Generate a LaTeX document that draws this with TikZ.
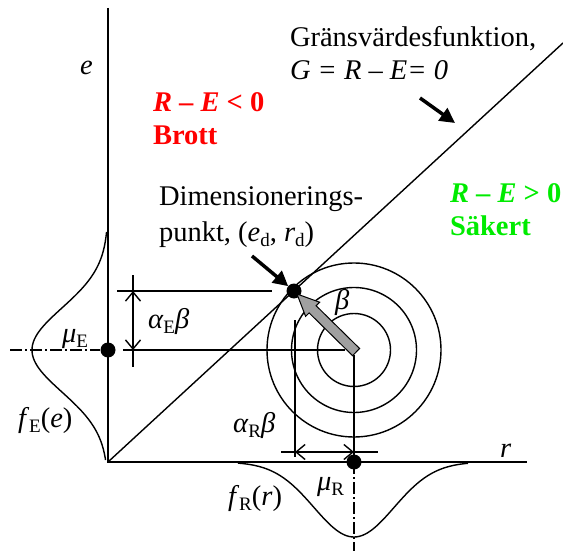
\documentclass[tikz,border=0pt]{standalone}
\usepackage{fontspec}
\setmainfont{Liberation Serif}
\usetikzlibrary{arrows.meta,calc}
\definecolor{brottred}{RGB}{255,0,0}
\definecolor{sakgreen}{RGB}{0,235,0}
\definecolor{arrowgray}{RGB}{160,160,160}
\newcommand\lsub[1]{\raisebox{-0.2em}{\fontsize{19}{20}\selectfont #1}}
\begin{document}
\fontsize{28.5}{34}\selectfont
\begin{tikzpicture}[x=1pt,y=-1pt,
  every node/.style={inner sep=0pt, outer sep=0pt},
  axisline/.style={line width=1.8pt},
  thinline/.style={line width=1.4pt},
  dimtip/.style={line width=1.4pt, -{Straight Barb[length=9pt,width=15pt]}},
  pointer/.style={line width=3.5pt, -{Triangle[length=15pt,width=15pt]}},
  dashdotline/.style={line width=1.4pt, dash pattern=on 12pt off 3pt on 2pt off 3pt},
  dot/.style={circle, fill=black, minimum size=15pt, inner sep=0pt},
  lbl/.style={anchor=base west}]
\useasboundingbox (0,0) rectangle (563,551);
% key points
\coordinate (O) at (108,462);
\coordinate (Etop) at (108,8);
\coordinate (Rend) at (527,462);
\coordinate (Gend) at (563,43);
\coordinate (C) at (354,350);
% density curves
\draw[thinline] plot[domain=232:460, samples=90, smooth] ({108-76*exp(-1*((\x-350)^2)/3528)}, \x);
\draw[thinline] plot[domain=238:468, samples=90, smooth] (\x, {462+75*exp(-1*((\x-354)^2)/3200)});
% axes and limit state line
\draw[axisline] (Etop) -- (O) -- (Rend);
\draw[thinline] (O) -- (Gend);
% circles
\draw[thinline] (C) circle[radius=36.5];
\draw[thinline] (C) circle[radius=62.5];
\draw[thinline] (C) circle[radius=87];
% extension and dimension lines
\coordinate (ext1a) at (117,291); \coordinate (ext1b) at (272,291);
\draw[thinline] (ext1a) -- (ext1b);
\coordinate (hA) at (123,350); \coordinate (hB) at (345,350);
\draw[thinline] (hA) -- (hB);
\coordinate (dEa) at (133,275); \coordinate (dEb) at (133,367); \coordinate (dEm) at (133,320);
\coordinate (dEt) at (133,291); \coordinate (dEu) at (133,350);
\draw[thinline] (dEa) -- (dEb);
\draw[dimtip] (dEm) -- (dEt);
\draw[dimtip] (dEm) -- (dEu);
\coordinate (vRa) at (295,320); \coordinate (vRb) at (295,457);
\draw[thinline] (vRa) -- (vRb);
\coordinate (vCa) at (354,355);
\coordinate (dRa) at (281,452); \coordinate (dRb) at (378,452); \coordinate (dRm) at (325,452);
\coordinate (dRl) at (295,452); \coordinate (dRr) at (354,452);
\draw[thinline] (dRa) -- (dRb);
\draw[dimtip] (dRm) -- (dRl);
\draw[dimtip] (dRm) -- (dRr);
% dash-dot centre lines
\coordinate (ddL1) at (10,350); \coordinate (ddL2) at (100,350);
\draw[dashdotline] (ddL1) -- (ddL2);
\coordinate (ddB) at (354,551);
% dots
\node[dot] (D) at (294,291) {};
\node[dot] (muE) at (108,350) {};
\node[dot] (muR) at (354,462) {};
\draw[thinline] (vCa) -- (muR.center);
\draw[dashdotline] (muR.center) -- (ddB);
% gray beta arrow
\draw[line width=1pt, fill=arrowgray] (359.6,348.5) -- (316.1,305.7) -- (319.6,302.2) -- (297,294) -- (305.6,316.4) -- (309.1,312.9) -- (352.6,355.7) -- cycle;
% pointer arrows
\coordinate (pG) at (420,98); \coordinate (pGe) at (455,123);
\draw[pointer] (pG) -- (pGe);
\coordinate (pD) at (252,256);
\draw[pointer] (pD) -- (D);
% texts
\node[lbl] (t1) at (290,47) {Gränsvärdesfunktion,};
\node[lbl] (t2) at (290,80) {\itshape G = R – E= 0};
\node[lbl, text=brottred, font=\bfseries] (t3) at (153,112) {\textit{R} – \textit{E} < 0};
\node[lbl, text=brottred, font=\bfseries] (t4) at (153,145) {Brott};
\node[lbl] (t5) at (159,205) {Dimensionerings-};
\node[lbl] (t6) at (159,241) {punkt, (\textit{e}\lsub{d}, \textit{r}\lsub{d})};
\node[lbl, text=sakgreen, font=\bfseries] (t7) at (450,202) {\textit{R} – \textit{E} > 0};
\node[lbl, text=sakgreen, font=\bfseries] (t8) at (450,235) {Säkert};
\node[lbl] (te) at (80,75) {\itshape e};
\node[lbl] (tr) at (500,457) {\itshape r};
\node[lbl] (taE) at (148,328) {\textit{α}\lsub{E}\textit{β}};
\node[lbl] (tmE) at (62,342) {\textit{μ}\lsub{E}};
\node[lbl] (tfE) at (18,427) {\textit{f}\lsub{E}(\textit{e})};
\node[lbl] (taR) at (233,432) {\textit{α}\lsub{R}\textit{β}};
\node[lbl] (tfR) at (228,505) {\textit{f}\lsub{R}(\textit{r})};
\node[lbl] (tmR) at (317,490) {\textit{μ}\lsub{R}};
\node[lbl] (tb) at (335,309) {\textit{β}};
\end{tikzpicture}
\end{document}
